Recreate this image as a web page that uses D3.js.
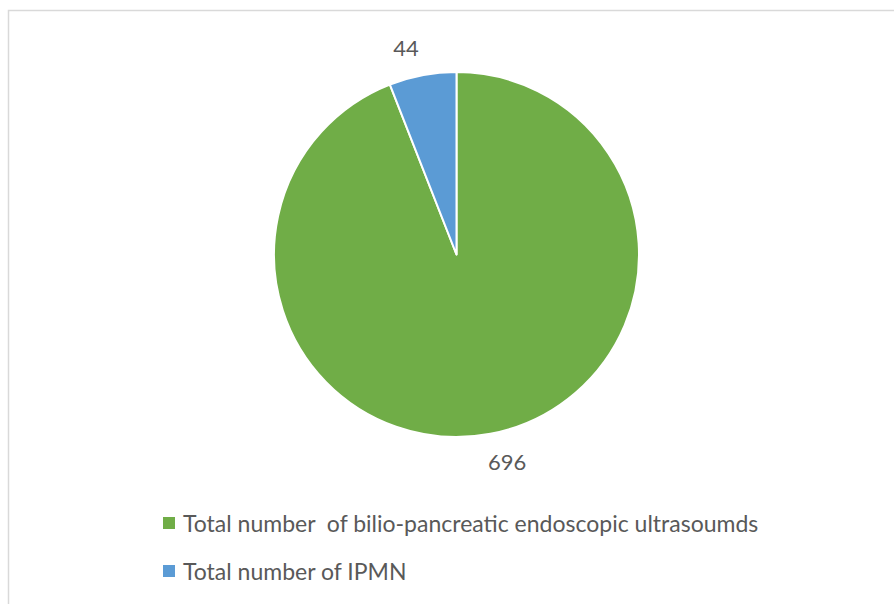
<!DOCTYPE html>
<html>
<head>
<meta charset="utf-8">
<script src="https://cdn.jsdelivr.net/npm/d3@7"></script>
<style>
  html, body { margin: 0; padding: 0; background: #fff; }
  svg { display: block; }
</style>
</head>
<body>
<svg id="chart" width="894" height="604"></svg>
<script>
// Series
const categories = [
  "Total number  of bilio-pancreatic endoscopic ultrasoumds",
  "Total number of IPMN"
];
const values = [696, 44];
const colors = ["#70AD47", "#5B9BD5"];

const svg = d3.select("#chart");
const W = 894, H = 604;

// Chart frame (open at right and bottom edges)
svg.append("rect")
  .attr("x", 8.5).attr("y", 10.5)
  .attr("width", W).attr("height", H)
  .attr("fill", "#fff")
  .attr("stroke", "#d9d9d9")
  .attr("stroke-width", 1.5);

const cx = 456.5, cy = 254.5, r = 182.5;

const data = categories.map((c, i) => ({ name: c, value: values[i], color: colors[i] }));

const pie = d3.pie().value(d => d.value).sort(null);
const arcs = pie(data);
const arc = d3.arc().innerRadius(0).outerRadius(r);

const g = svg.append("g").attr("transform", `translate(${cx},${cy})`);

g.selectAll("path.slice")
  .data(arcs)
  .join("path")
  .attr("class", "slice")
  .attr("d", arc)
  .attr("fill", d => d.data.color)
  .attr("stroke", "#fff")
  .attr("stroke-width", 2)
  .attr("stroke-linejoin", "round");

// Data labels placed just outside the slice edge, nudged slightly counter-clockwise
const labelR = r + 31;
const nudge = -3 * Math.PI / 180;
const labelPos = d => {
  const a = (d.startAngle + d.endAngle) / 2 + nudge;
  return [labelR * Math.sin(a), -labelR * Math.cos(a)];
};
g.selectAll("text.val")
  .data(arcs)
  .join("text")
  .attr("class", "val")
  .attr("x", d => labelPos(d)[0])
  .attr("y", d => labelPos(d)[1])
  .attr("text-anchor", "middle")
  .attr("dominant-baseline", "central")
  .attr("font-family", "Lato, 'Open Sans', sans-serif")
  .attr("font-size", 22)
  .attr("fill", "#595959")
  .text(d => d.data.value);

// Legend
const legend = svg.append("g");
const legY = [523, 571];
data.forEach((d, i) => {
  legend.append("rect")
    .attr("x", 163).attr("y", legY[i] - 6)
    .attr("width", 12).attr("height", 12)
    .attr("fill", d.color);
  legend.append("text")
    .attr("x", 183).attr("y", legY[i])
    .attr("dominant-baseline", "central")
    .attr("font-family", "Lato, 'Open Sans', sans-serif")
    .attr("font-size", 23)
    .attr("fill", "#595959")
    .style("white-space", "pre")
    .text(d.name);
});
</script>
</body>
</html>
